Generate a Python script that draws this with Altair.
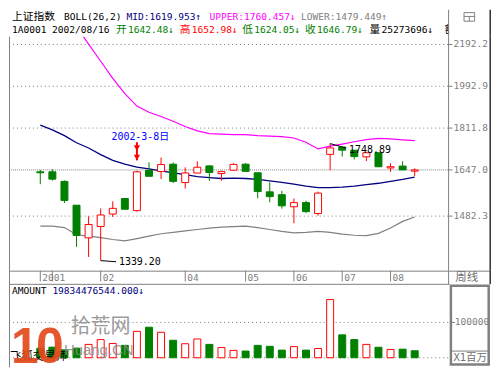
import altair as alt
import pandas as pd

# ---------------- data ----------------
weeks = list(range(32))
opens = [1639.9, 1639.9, 1604.6, 1519.7, 1410.5, 1447.8, 1489.3, 1543.0, 1501.0, 1645.2,
         1640.9, 1668.6, 1600.1, 1635.2, 1662.1, 1633.4, 1645.9, 1668.6, 1636.3, 1566.7,
         1556.5, 1514.1, 1528.7, 1491.2, 1706.4, 1735.2, 1722.8, 1696.8, 1712.7, 1654.2,
         1661.4, 1642.48]
highs = [1647.0, 1649.5, 1608.1, 1519.7, 1481.5, 1508.8, 1533.0, 1545.4, 1644.5, 1675.9,
         1694.2, 1674.8, 1656.7, 1679.5, 1664.3, 1643.4, 1672.3, 1672.3, 1636.3, 1601.1,
         1570.1, 1543.0, 1535.3, 1567.7, 1748.89, 1735.2, 1722.8, 1712.7, 1712.7, 1672.3,
         1679.5, 1652.98]
lows = [1594.2, 1607.0, 1527.3, 1382.0, 1350.5, 1339.2, 1479.6, 1505.6, 1497.7, 1623.2,
        1613.3, 1598.7, 1578.6, 1635.2, 1606.0, 1607.0, 1643.4, 1641.6, 1544.0, 1529.7,
        1507.5, 1458.2, 1492.5, 1483.8, 1645.9, 1697.9, 1686.9, 1680.6, 1658.9, 1639.9,
        1647.0, 1624.05]
closes = [1636.3, 1612.6, 1536.3, 1418.5, 1454.1, 1486.1, 1508.8, 1505.6, 1639.9, 1623.2,
          1667.5, 1604.6, 1635.6, 1657.1, 1637.4, 1640.6, 1667.9, 1641.6, 1567.7, 1549.7,
          1517.4, 1528.7, 1497.7, 1562.3, 1731.4, 1722.8, 1697.9, 1712.7, 1658.9, 1659.2,
          1647.0, 1646.79]
boll_mid = [1824.2, 1804.5, 1781.1, 1752.3, 1731.4, 1705.3, 1683.2, 1668.6, 1657.8, 1650.6,
            1643.4, 1636.3, 1629.2, 1622.1, 1618.6, 1615.1, 1616.8, 1615.1, 1611.6, 1606.3,
            1601.1, 1594.2, 1587.2, 1582.1, 1582.1, 1583.8, 1587.2, 1592.4, 1597.6, 1604.6,
            1611.6, 1619.953]
boll_upper = [None, None, None, 2282.0, 2194.4, 2110.2, 2029.2, 1959.8, 1905.2, 1878.5,
              1860.2, 1840.1, 1818.2, 1800.5, 1788.8, 1786.9, 1785.0, 1785.0, 1781.1, 1779.1,
              1777.2, 1771.4, 1754.2, 1727.7, 1739.0, 1746.6, 1756.1, 1764.5, 1769.5, 1767.6,
              1763.7, 1760.457]
boll_lower = [1448.7, 1448.7, 1444.0, 1420.7, 1416.0, 1411.4, 1405.3, 1400.7, 1408.4, 1416.0,
              1423.8, 1428.4, 1433.1, 1437.8, 1442.5, 1445.6, 1447.2, 1448.7, 1444.0, 1437.8,
              1431.5, 1426.9, 1428.4, 1431.5, 1428.4, 1422.8, 1419.1, 1417.6, 1425.3, 1442.5,
              1464.6, 1479.449]
amount_million = [27000, 30000, 22400, 27000, 37800, 51400, 40500, 35100, 74900, 86500,
                  72200, 49500, 39700, 53200, 37800, 28900, 20800, 18900, 35100, 32400,
                  21600, 31600, 21600, 26200, 164900, 64900, 51400, 37800, 29700, 23500,
                  24300, 19834.476544]
up_volume_weeks = [4, 5, 6, 8, 10, 12, 13, 15, 16, 21, 23, 24, 27, 29]

x_tick_idx = [0, 1, 5, 12, 17, 21, 25, 29]
x_tick_txt = ["2001", "", "02", "04", "05", "06", "07", "08"]
y_tick_txt = ["2192.2", "1992.9", "1811.8", "1647.0", "1482.3"]
vol_tick_txt = ["100000"]

stock_name = "上证指数"
indicator = "BOLL(26,2)"
code_date = "1A0001 2002/08/16"
last_shares = 25273696
event_week, event_label = 8, "2002-3-8日"
period_label = "周线"
unit_label = "X1百万"
brand = "飞狐交易师"

# ---------------- layout ----------------
W = 484
SX = W / 500
SY = 359 / 375
H_HEAD, H_MAIN, H_BOT = 27, 235, 97
TOP_MAIN, TOP_BOT = H_HEAD, H_HEAD + H_MAIN


def px(r):
    return r * SX


def yh(r):
    return r * SY


def ym(r):
    return r * SY - TOP_MAIN


def yb(r):
    return r * SY - TOP_BOT


GRAY = "#808080"
RED = "#FF0000"
GREEN = "#008000"
NAVY = "#000080"
MAGENTA = "#FF00FF"
BLUE = "#0000FF"
EDGE = "#303030"
MONO = "DejaVu Sans Mono, Noto Sans CJK SC"
CJK = "Noto Sans CJK SC"
MS = 9.6  # mono font size

xscale = alt.Scale(domain=[0, 31], range=[px(27.3), px(426.0)])
yscale = alt.Scale(type="log", domain=[1308.9, 2231.9], range=[H_MAIN, 0], nice=False, zero=False)
vscale = alt.Scale(domain=[0, 100000], range=[yb(365), yb(328)], nice=False, zero=False)
stroke_sc = alt.Scale(domain=["up", "down"], range=[RED, GREEN])
fill_sc = alt.Scale(domain=["up", "down"], range=["#FFFFFF", GREEN])

df = pd.DataFrame({"i": weeks, "open": opens, "high": highs, "low": lows, "close": closes,
                   "mid": boll_mid, "upper": boll_upper, "lower": boll_lower,
                   "amount": amount_million})
df["dir"] = ["up" if c >= o else "down" for o, c in zip(opens, closes)]
df["vdir"] = ["up" if i in up_volume_weeks else "down" for i in weeks]

deco = pd.DataFrame({"k": [0]})


def vrule(x, y0, y1, color=GRAY, w=1.0):
    return alt.Chart(deco).mark_rule(color=color, strokeWidth=w).encode(
        x=alt.value(x), y=alt.value(y0), y2=alt.value(y1))


def hrule(y, x0, x1, color=GRAY, w=1.0):
    return alt.Chart(deco).mark_rule(color=color, strokeWidth=w).encode(
        y=alt.value(y), x=alt.value(x0), x2=alt.value(x1))


def ptext(txt, x, y, color="black", font=MONO, size=MS, **kw):
    return alt.Chart(pd.DataFrame({"t": [txt]})).mark_text(
        align="left", baseline="middle", font=font, fontSize=size, color=color, **kw
    ).encode(x=alt.value(x), y=alt.value(y), text="t:N")


X = alt.X("i:Q", scale=xscale, axis=None)


def Y(f):
    return alt.Y(f"{f}:Q", scale=yscale, axis=None)


# ---------------- header ----------------
R1, R2 = 7.6, 21.3
mono_rows = [
    (indicator, 57, R1, "black"),
    (f"MID:{boll_mid[-1]:.3f}↑", 122, R1, NAVY),
    (f"UPPER:{boll_upper[-1]:.3f}↓", 208, R1, MAGENTA),
    (f"LOWER:{boll_lower[-1]:.3f}↑", 303, R1, GRAY),
    (code_date, 3, R2, "black"),
    (f"{opens[-1]:.2f}↓", 123.5, R2, GREEN),
    (f"{highs[-1]:.2f}↓", 189.5, R2, RED),
    (f"{lows[-1]:.2f}↓", 254.5, R2, GREEN),
    (f"{closes[-1]:.2f}↓", 319.5, R2, GREEN),
    (f"{last_shares}↓", 386.5, R2, "black"),
]
cjk_rows = [
    (stock_name, 3, R1, "black"),
    ("开", 111, R2, GREEN),
    ("高", 177, R2, RED),
    ("低", 242, R2, GREEN),
    ("收", 307, R2, GREEN),
    ("量", 374, R2, "black"),
    ("额", 452, R2, "black"),
]


def rows_df(rows):
    return pd.DataFrame({"t": [r[0] for r in rows], "x": [px(r[1]) for r in rows],
                         "y": [yh(r[2]) for r in rows], "c": [r[3] for r in rows]})


def rows_text(rows, font, size):
    return alt.Chart(rows_df(rows)).mark_text(align="left", baseline="middle", font=font, fontSize=size).encode(
        x=alt.X("x:Q", scale=None, axis=None), y=alt.Y("y:Q", scale=None, axis=None),
        text="t:N", color=alt.Color("c:N", scale=None))


head_cover = alt.Chart(deco).mark_rect(color="white").encode(
    x=alt.value(px(456.5)), x2=alt.value(W), y=alt.value(0), y2=alt.value(H_HEAD))
icon = alt.Chart(deco).mark_rect(fillOpacity=0, stroke=GRAY, strokeWidth=1).encode(
    x=alt.value(px(472)), x2=alt.value(px(483)), y=alt.value(yh(3)), y2=alt.value(yh(12)))
header = alt.layer(
    rows_text(mono_rows, MONO, MS),
    rows_text(cjk_rows, CJK, 10.8),
    head_cover,
    vrule(px(456), 0, H_HEAD),
    icon,
    hrule(yh(7), px(472), px(483)),
    vrule(px(477.5), yh(7), yh(12)),
    vrule(W - 0.8, 0, H_HEAD, color=EDGE, w=1.5),
).properties(width=W, height=H_HEAD)

# ---------------- main panel ----------------
ytk = pd.DataFrame({"v": [float(t) for t in y_tick_txt], "t": y_tick_txt})
ytk["dense"] = ["d" if t == "1647.0" else "s" for t in y_tick_txt]
grid = alt.Chart(ytk).mark_rule(color=GRAY, strokeWidth=1).encode(
    y=Y("v"), x=alt.value(0), x2=alt.value(px(456)),
    strokeDash=alt.StrokeDash("dense:N", scale=alt.Scale(domain=["d", "s"], range=[[1, 1], [1, 3]]), legend=None))
ytick_marks = alt.Chart(ytk).mark_rule(color=GRAY).encode(
    y=Y("v"), x=alt.value(px(456)), x2=alt.value(px(460)))
ylabels = alt.Chart(ytk).mark_text(align="left", baseline="middle", font=MONO, fontSize=MS, color=GRAY).encode(
    y=Y("v"), x=alt.value(px(461)), text="t:N")

base = alt.Chart(df)
mid_line = base.mark_line(color=NAVY, strokeWidth=1.3, clip=True).encode(x=X, y=Y("mid"))
upper_line = base.mark_line(color=MAGENTA, strokeWidth=1.2, clip=True).encode(x=X, y=Y("upper"))
lower_line = base.mark_line(color=GRAY, strokeWidth=1.2, clip=True).encode(x=X, y=Y("lower"))
wicks = base.mark_rule(strokeWidth=1).encode(
    x=X, y=Y("low"), y2="high:Q", color=alt.Color("dir:N", scale=stroke_sc, legend=None))
bodies = base.mark_bar(size=7, strokeWidth=1).encode(
    x=X, y=Y("open"), y2="close:Q",
    fill=alt.Fill("dir:N", scale=fill_sc, legend=None),
    stroke=alt.Stroke("dir:N", scale=stroke_sc, legend=None))

# annotations (week index, price)
ann_txt = pd.DataFrame({
    "x": [5.89, 6.51, 25.56],
    "y": [1775.3, 1335.9, 1725.1],
    "t": [event_label, f"{lows[5]:.2f}", f"{highs[24]:.2f}"],
    "c": [BLUE, "black", "black"],
})
ann_text = alt.Chart(ann_txt).mark_text(align="left", baseline="middle", font=MONO, fontSize=10).encode(
    x=alt.X("x:Q", scale=xscale, axis=None), y=Y("y"), text="t:N", color=alt.Color("c:N", scale=None))
leaders = pd.DataFrame({"id": [0, 0, 1, 1], "x": [5, 6.27, 24.0, 25.3],
                        "y": [lows[5], 1335.9, highs[24], 1731.4]})
leader_lines = alt.Chart(leaders).mark_line(color="black", strokeWidth=1).encode(
    x=alt.X("x:Q", scale=xscale, axis=None), y=Y("y"), detail="id:N")
arrow_stem = alt.Chart(pd.DataFrame({"x": [event_week], "y": [1754.2], "y2": [1683.2]})).mark_rule(
    color=RED, strokeWidth=2).encode(x=alt.X("x:Q", scale=xscale, axis=None), y=Y("y"), y2="y2:Q")
arrow_heads = alt.Chart(pd.DataFrame({"x": [event_week, event_week], "y": [1731.4, 1694.2]})).mark_point(
    shape="triangle-down", filled=True, size=40, color=RED, opacity=1).encode(
    x=alt.X("x:Q", scale=xscale, axis=None), y=Y("y"))

main = alt.layer(
    grid, ytick_marks, ylabels,
    vrule(px(456), 0, H_MAIN), vrule(0.5, 0, H_MAIN),
    vrule(W - 0.8, 0, H_MAIN, color=EDGE, w=1.5),
    lower_line, mid_line, upper_line,
    wicks, bodies,
    leader_lines, ann_text, arrow_stem, arrow_heads,
).properties(width=W, height=H_MAIN)

# ---------------- date row + volume panel ----------------
xt = pd.DataFrame({"i": x_tick_idx, "t": x_tick_txt})
xticks = alt.Chart(xt).mark_rule(color=GRAY).encode(x=X, y=alt.value(0), y2=alt.value(yb(285)))
xlabels = alt.Chart(xt).mark_text(align="left", baseline="middle", dx=2, font=MONO, fontSize=MS, color=GRAY).encode(
    x=X, y=alt.value(yb(281)), text="t:N")

vgrid = alt.Chart(pd.DataFrame({"v": [0, 100000]})).mark_rule(color=GRAY, strokeDash=[1, 3]).encode(
    y=alt.Y("v:Q", scale=vscale, axis=None), x=alt.value(0), x2=alt.value(px(456)))
vtk = pd.DataFrame({"v": [float(t) for t in vol_tick_txt], "t": vol_tick_txt})
vlabel = alt.Chart(vtk).mark_text(align="left", baseline="middle", font=MONO, fontSize=MS, color=GRAY).encode(
    y=alt.Y("v:Q", scale=vscale, axis=None), x=alt.value(px(462.5)), text="t:N")
vtick = alt.Chart(vtk).mark_rule(color=GRAY).encode(
    y=alt.Y("v:Q", scale=vscale, axis=None), x=alt.value(px(459)), x2=alt.value(px(462.5)))
vol = base.mark_bar(size=7, strokeWidth=1).encode(
    x=X, y=alt.Y("amount:Q", scale=vscale, axis=None),
    fill=alt.Fill("vdir:N", scale=fill_sc, legend=None),
    stroke=alt.Stroke("vdir:N", scale=stroke_sc, legend=None))
frame = alt.Chart(deco).mark_rect(fillOpacity=0, stroke=GRAY, strokeWidth=2.5).encode(
    x=alt.value(px(458.4)), x2=alt.value(px(497.6)), y=alt.value(yb(289.4)), y2=alt.value(yb(372)))


def logo_digit(d, x):
    return alt.Chart(pd.DataFrame({"t": [d]})).mark_text(
        align="left", baseline="alphabetic", font="Liberation Sans, DejaVu Sans",
        fontSize=50, fontWeight="bold", color="#E34A1C", opacity=0.92
    ).encode(x=alt.value(x), y=alt.value(yb(371)), text="t:N")


bottom = alt.layer(
    hrule(0.5, 0, W), hrule(yb(288), 0, px(457)), vrule(px(456), 0, yb(288)), vrule(0.5, 0, H_BOT),
    vrule(W - 0.8, 0, yb(288), color=EDGE, w=1.5),
    xticks, xlabels,
    ptext(period_label, px(463), yb(281), color="#707070", font=CJK, size=11.5),
    vgrid, vol, frame, vtick, vlabel,
    hrule(yb(358), px(458.4), px(497.6)),
    ptext(unit_label, px(461), yb(365.5), color="#707070", size=10.5),
    ptext("AMOUNT", px(3), yb(295)),
    ptext(f"{amount_million[-1] * 1e6:.3f}↓", px(45), yb(295), color=NAVY),
    ptext(brand, px(1), yb(364), font=CJK, size=11.5),
    ptext("拾荒网", px(64), yb(333), color="#8a8a8a", font=CJK, size=20, opacity=0.85),
    ptext("Huang.CN", px(57), yb(357), color="#8a8a8a", font="Liberation Sans, DejaVu Sans", size=15, opacity=0.85),
    logo_digit("1", px(2)),
    logo_digit("0", px(28)),
).properties(width=W, height=H_BOT)

chart = alt.vconcat(header, main, bottom, spacing=0, bounds="flush", padding=0,
                    background="white").configure_view(strokeWidth=0)

chart.save("out.html", embed_options={"renderer": "svg", "actions": False})
